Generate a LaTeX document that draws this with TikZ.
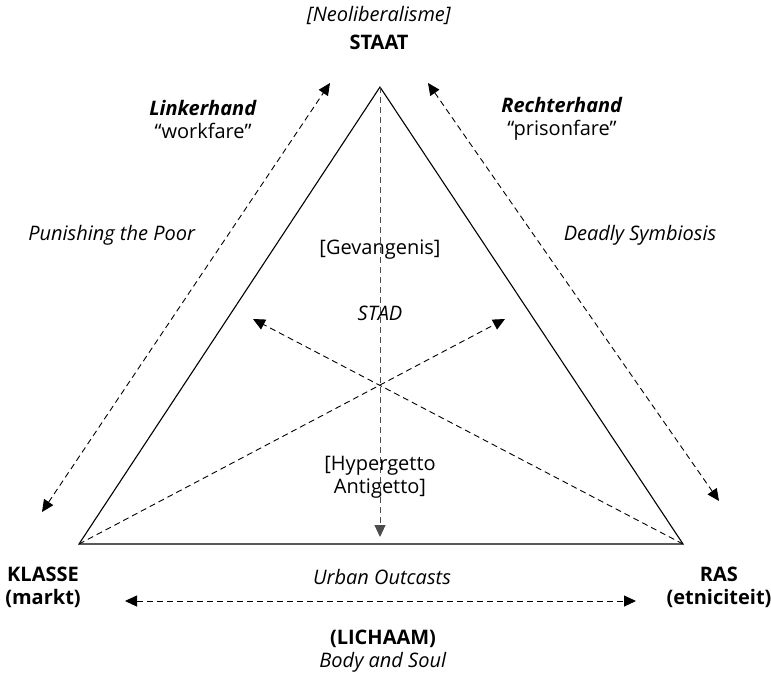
\documentclass[tikz,border=0pt]{standalone}
\usepackage{fontspec}
\setmainfont{Open Sans}
\usetikzlibrary{arrows.meta}

\begin{document}
\begin{tikzpicture}[x=1pt, y=-1pt,
    lbl/.style={font=\fontsize{20}{23}\selectfont, align=center, inner sep=0pt},
    dash line/.style={dash pattern=on 6pt off 4pt, line width=0.9pt},
    pijl/.style={dash line, {Triangle[length=12pt,width=11pt]}-{Triangle[length=12pt,width=11pt]}},
    enkel/.style={dash line, -{Triangle[length=12pt,width=11pt]}}]
    \useasboundingbox (0,0) rectangle (771,673);

    % driehoek
    \coordinate (top) at (380,87);
    \coordinate (kl) at (79,544);
    \coordinate (rs) at (683,544);
    \draw[line width=1.1pt, line join=miter] (top) -- (kl) -- (rs) -- cycle;

    % eindpunten van de pijlen
    \coordinate (mid) at (380,537);
    \coordinate (lu) at (253,319);
    \coordinate (ru) at (505,319);
    \coordinate (la) at (42,512);
    \coordinate (lb) at (330,83);
    \coordinate (ra) at (428,83);
    \coordinate (rb) at (719,501);
    \coordinate (ol) at (125,601);
    \coordinate (or) at (636,601);

    \draw[enkel, black!70] (top) -- (mid);
    \draw[enkel] (kl) -- (ru);
    \draw[enkel] (rs) -- (lu);
    \draw[pijl] (la) -- (lb);
    \draw[pijl] (ra) -- (rb);
    \draw[pijl] (ol) -- (or);

    % teksten
    \node[lbl] (neo) at (379,15) {\textit{[Neoliberalisme]}};
    \node[lbl] (staat) at (379,42) {\textbf{STAAT}};
    \node[lbl] (links) at (203,119) {\textbf{\textit{Linkerhand}}\\“workfare”};
    \node[lbl] (rechts) at (562,119) {\textbf{\textit{Rechterhand}}\\“prisonfare”};
    \node[lbl] (poor) at (112,235) {\textit{Punishing the Poor}};
    \node[lbl] (deadly) at (640,235) {\textit{Deadly Symbiosis}};
    \node[lbl] (gev) at (380,250) {[Gevangenis]};
    \node[lbl] (stad) at (380,313) {\textit{STAD}};
    \node[lbl] (hyper) at (380,477) {[Hypergetto\\Antigetto]};
    \node[lbl] (klasse) at (43,587) {\textbf{KLASSE}\\\textbf{(markt)}};
    \node[lbl] (ras) at (719,587) {\textbf{RAS}\\\textbf{(etniciteit)}};
    \node[lbl] (urban) at (382,577) {\textit{Urban Outcasts}};
    \node[lbl] (lich) at (383,651) {\textbf{(LICHAAM)}\\\textit{Body and Soul}};
\end{tikzpicture}
\end{document}
